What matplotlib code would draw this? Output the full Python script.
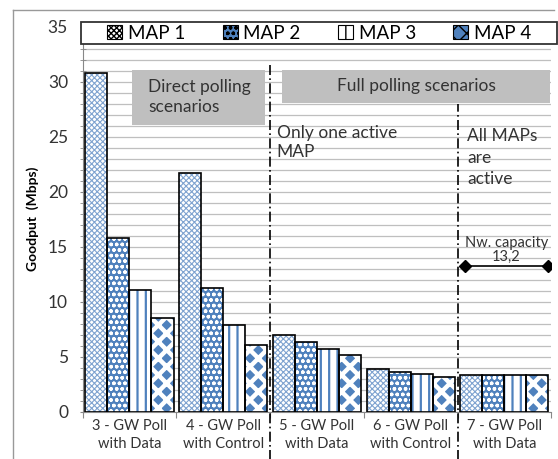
import matplotlib
matplotlib.use('Agg')
import numpy as np
import matplotlib.pyplot as plt
from matplotlib.patches import Rectangle
from matplotlib.lines import Line2D

plt.rcParams['font.family'] = ['Lato', 'DejaVu Sans']

categories = ['3 - GW Poll\nwith Data', '4 - GW Poll\nwith Control', '5 - GW Poll\nwith Data',
              '6 - GW Poll\nwith Control', '7 - GW Poll\nwith Data']
series = ['MAP 1', 'MAP 2', 'MAP 3', 'MAP 4']
map1 = [30.8, 21.7, 7.0, 3.85, 3.3]
map2 = [15.8, 11.2, 6.3, 3.6, 3.3]
map3 = [11.1, 7.9, 5.7, 3.45, 3.3]
map4 = [8.5, 6.1, 5.2, 3.2, 3.3]
capacity = 13.2

values = [map1, map2, map3, map4]
blue = '#4F81BD'
# (face, hatch colour, hatch, hatch width)
styles = [('white', '#7FA3D0', 'xxxxxx', 0.8),
          (blue, 'white', 'ooo', 1.0),
          ('white', blue, '||', 1.6),
          (blue, 'white', 'xx', 3.2)]
txt = '#333333'

fig = plt.figure(figsize=(5.58, 4.59), dpi=100)
ax = fig.add_axes([0.148, 0.103, 0.84, 0.839])

x = np.arange(len(categories))
w = 0.235
handles = []
for i, vals in enumerate(values):
    face, hc, h, hw = styles[i]
    bars = ax.bar(x + (i - 1.5) * w, vals, w, color=face, edgecolor=hc, linewidth=0,
                  hatch=h, zorder=3)
    for b in bars:
        b.set_hatch_linewidth(hw)
    ax.bar(x + (i - 1.5) * w, vals, w, color='none', edgecolor='black', linewidth=1.2, zorder=4)
    handles.append(bars)

ax.set_xlim(-0.5, len(categories) - 0.5)
ax.set_ylim(0, 35)
ax.set_yticks(np.arange(0, 36, 5))
ax.set_yticks(np.arange(0, 36, 1), minor=True)
ax.grid(axis='y', which='both', color='#BFBFBF', linewidth=0.9, zorder=0)
ax.set_xticks(np.arange(-0.5, len(categories), 1))
ax.set_xticklabels([])
ax.tick_params(axis='x', length=4, color='#888888', direction='out')
ax.tick_params(axis='y', which='both', length=5, color='#888888', direction='inout',
               labelsize=12.5, labelcolor=txt, pad=8)
for c, lab in zip(x, categories):
    ax.text(c, -0.7, lab, ha='center', va='top', fontsize=10.5, color=txt, linespacing=1.3)
for s in ['top', 'right']:
    ax.spines[s].set_visible(False)
ax.spines['left'].set_color('#888888')
ax.spines['bottom'].set_color('#888888')
ax.set_ylabel('Goodput  (Mbps)', fontsize=10, fontweight='bold', color='black', labelpad=6)

# separators
ax.plot([1.5, 1.5], [-4.4, 31.5], color='black', linestyle=(0, (6, 2, 1, 2)), linewidth=1.2,
        clip_on=False, zorder=5)
ax.plot([3.5, 3.5], [-4.4, 28.0], color='black', linestyle=(0, (6, 2, 1, 2)), linewidth=1.2,
        clip_on=False, zorder=5)

# grey scenario boxes
ax.add_patch(Rectangle((0.03, 26.1), 1.42, 5.0, facecolor='#BFBFBF', edgecolor='none', zorder=6))
ax.text(0.2, 28.6, 'Direct polling\nscenarios', ha='left', va='center', fontsize=12.5,
        color=txt, linespacing=1.25, zorder=7)
ax.add_patch(Rectangle((1.63, 28.1), 2.86, 3.0, facecolor='#BFBFBF', edgecolor='none', zorder=6))
ax.text(3.06, 29.6, 'Full polling scenarios', ha='center', va='center', fontsize=12.5,
        color=txt, zorder=7)

ax.text(1.57, 24.5, 'Only one active\nMAP', ha='left', va='center', fontsize=12.5,
        color=txt, linespacing=1.25, zorder=7)
ax.text(3.6, 23.1, 'All MAPs\nare\nactive', ha='left', va='center', fontsize=12.5,
        color=txt, linespacing=1.4, zorder=7)

# network capacity marker
ax.plot([3.58, 4.46], [capacity, capacity], color='black', linewidth=1.2, marker='D',
        markersize=6, zorder=7)
ax.text(4.02, capacity + 1.5, 'Nw. capacity', ha='center', va='bottom', fontsize=10.5,
        color=txt, zorder=7)
ax.text(4.02, capacity + 0.25, '13,2', ha='center', va='bottom', fontsize=10.5,
        color=txt, zorder=7)

# legend with its own frame
leg_box = Rectangle((-0.003, 0.954), 1.016, 0.058, transform=ax.transAxes, facecolor='white',
                    edgecolor='#333333', linewidth=1.3, clip_on=False, zorder=8)
ax.add_patch(leg_box)
leg = ax.legend(handles, series, loc='center', bbox_to_anchor=(0.505, 0.983), ncol=4,
                frameon=False, fontsize=13.5, handlelength=0.8, handleheight=0.8,
                handletextpad=0.3, columnspacing=2.0, borderaxespad=0)
leg.set_zorder(9)
for p in leg.get_patches():
    p.set_edgecolor('black')
    p.set_linewidth(0.8)

# outer chart border (top and left only)
fig.add_artist(Line2D([0.023, 0.993], [0.978, 0.978], color='#999999', linewidth=1.0))
fig.add_artist(Line2D([0.023, 0.023], [0.0, 0.978], color='#999999', linewidth=1.0))

plt.savefig('out.png', dpi=100)
